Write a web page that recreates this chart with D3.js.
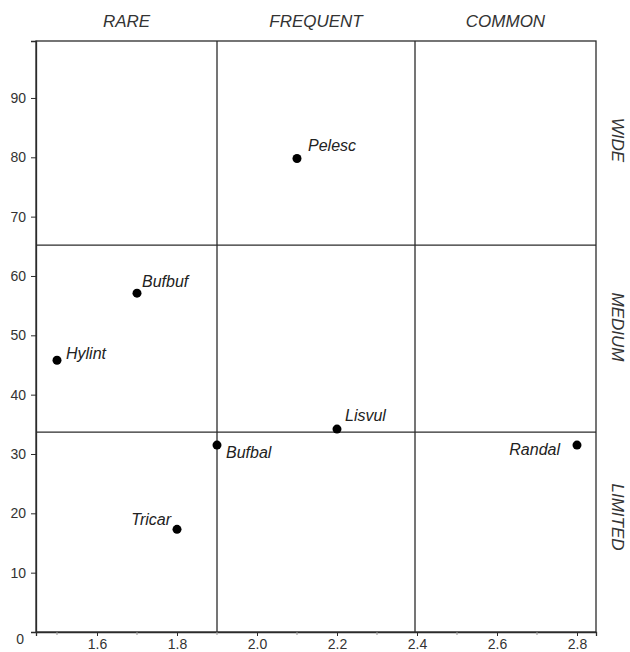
<!DOCTYPE html>
<html>
<head>
<meta charset="utf-8">
<script src="https://cdn.jsdelivr.net/npm/d3@7"></script>
<style>
  html, body { margin: 0; padding: 0; background: #fff; }
  svg { display: block; font-family: "Liberation Sans", Arial, sans-serif; }
</style>
</head>
<body>
<svg id="chart" width="630" height="652"></svg>
<script>
// Species positions: range score (x) vs. habitat breadth (y)
const species = ["Pelesc", "Bufbuf", "Hylint", "Lisvul", "Bufbal", "Randal", "Tricar"];
const xValues = [2.10, 1.70, 1.50, 2.20, 1.90, 2.80, 1.80];
const yValues = [79.8, 57.1, 45.8, 34.2, 31.5, 31.5, 17.3];

// Category boundaries
const xBreaks = [1.90, 2.395];
const yBreaks = [65.2, 33.7];
const columnLabels = ["RARE", "FREQUENT", "COMMON"];
const rowLabels = ["WIDE", "MEDIUM", "LIMITED"];

// Axis ticks
const xTicks = [1.6, 1.8, 2.0, 2.2, 2.4, 2.6, 2.8];
const xMinorTicks = [1.5, 1.7, 1.9, 2.1, 2.3, 2.5, 2.7];
const yTicks = [0, 10, 20, 30, 40, 50, 60, 70, 80, 90];

// Label placement around each point
const labelDx = [11, 5, 9, 8, 9, -17, -6];
const labelDy = [-7, -6, -1, -8, 13, 10, -4];
const labelAnchor = ["start", "start", "start", "start", "start", "end", "end"];

const plotLeft = 36, plotRight = 596, plotTop = 41, plotBottom = 632;
const ink = "#2b2b2b";

const svg = d3.select("#chart");
const x = d3.scaleLinear().domain([1.4475, 2.8475]).range([plotLeft, plotRight]);
const y = d3.scaleLinear().domain([0, 99.6]).range([plotBottom, plotTop]);

// Frame
svg.append("rect")
  .attr("x", plotLeft).attr("y", plotTop)
  .attr("width", plotRight - plotLeft).attr("height", plotBottom - plotTop)
  .attr("fill", "none").attr("stroke", ink).attr("stroke-width", 1.3);

// Category dividers
svg.selectAll("line.vdiv").data(xBreaks).join("line")
  .attr("class", "vdiv")
  .attr("x1", d => x(d)).attr("x2", d => x(d))
  .attr("y1", plotTop).attr("y2", plotBottom)
  .attr("stroke", ink).attr("stroke-width", 1.3);

svg.selectAll("line.hdiv").data(yBreaks).join("line")
  .attr("class", "hdiv")
  .attr("x1", plotLeft).attr("x2", plotRight)
  .attr("y1", d => y(d)).attr("y2", d => y(d))
  .attr("stroke", ink).attr("stroke-width", 1.3);

// X axis
const xAxis = svg.append("g")
  .attr("transform", `translate(0,${plotBottom})`)
  .call(d3.axisBottom(x).tickValues(xTicks).tickFormat(d3.format(".1f")).tickSize(4).tickPadding(3));
xAxis.select(".domain").attr("stroke", ink).attr("stroke-width", 1.3);
xAxis.selectAll(".tick line").attr("stroke", ink);
xAxis.selectAll(".tick text").attr("font-size", 14).attr("fill", "#333")
  .attr("font-family", "'Liberation Sans', Arial, sans-serif");

svg.append("g")
  .attr("transform", `translate(0,${plotBottom})`)
  .selectAll("line").data(xMinorTicks).join("line")
  .attr("x1", d => x(d)).attr("x2", d => x(d))
  .attr("y1", 0).attr("y2", 3)
  .attr("stroke", "#999");

// Y axis
const yAxis = svg.append("g")
  .attr("transform", `translate(${plotLeft},0)`)
  .call(d3.axisLeft(y).tickValues(yTicks).tickFormat(d3.format("d")).tickSize(5).tickPadding(5));
yAxis.select(".domain").attr("stroke", ink).attr("stroke-width", 1.3);
yAxis.selectAll(".tick line").attr("stroke", ink);
yAxis.selectAll(".tick text").attr("font-size", 14).attr("fill", "#333")
  .attr("font-family", "'Liberation Sans', Arial, sans-serif");
yAxis.selectAll(".tick").filter(d => d === 0).select("text")
  .attr("x", -12).attr("dy", "0.85em");

// Column headings
const colEdges = [x.domain()[0], ...xBreaks, x.domain()[1]];
svg.selectAll("text.col").data(columnLabels).join("text")
  .attr("class", "col")
  .attr("x", (d, i) => (x(colEdges[i]) + x(colEdges[i + 1])) / 2)
  .attr("y", 27)
  .attr("text-anchor", "middle")
  .attr("font-size", 17).attr("font-style", "italic").attr("fill", "#333")
  .text(d => d);

// Row headings (rotated, reading downward)
const rowCentres = [140, 327, 517];
svg.selectAll("text.row").data(rowLabels).join("text")
  .attr("class", "row")
  .attr("transform", (d, i) => `translate(612,${rowCentres[i]}) rotate(90)`)
  .attr("text-anchor", "middle")
  .attr("font-size", 17).attr("font-style", "italic").attr("fill", "#333")
  .text(d => d);

// Points
const pts = species.map((name, i) => ({ name, xv: xValues[i], yv: yValues[i], i }));
svg.selectAll("circle.pt").data(pts).join("circle")
  .attr("class", "pt")
  .attr("cx", d => x(d.xv)).attr("cy", d => y(d.yv))
  .attr("r", 4.5).attr("fill", "#000");

svg.selectAll("text.lbl").data(pts).join("text")
  .attr("class", "lbl")
  .attr("x", d => x(d.xv) + labelDx[d.i])
  .attr("y", d => y(d.yv) + labelDy[d.i])
  .attr("text-anchor", d => labelAnchor[d.i])
  .attr("font-size", 16).attr("font-style", "italic").attr("fill", "#222")
  .text(d => d.name);
</script>
</body>
</html>
